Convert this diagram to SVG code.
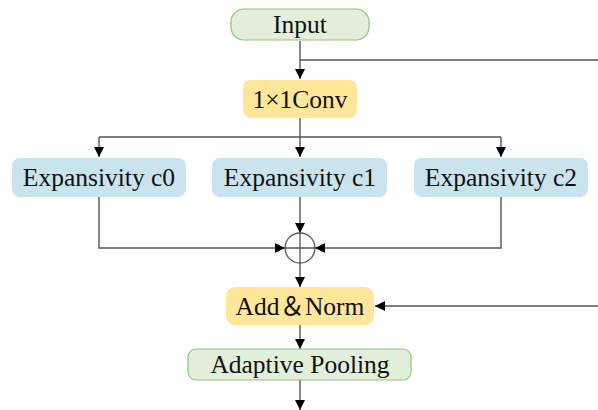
<svg xmlns="http://www.w3.org/2000/svg" width="598" height="410" viewBox="0 0 598 410">
<style>
text{font-family:"Liberation Serif","Times New Roman",serif;font-size:25.5px;fill:#111;text-anchor:middle}
.cjk{font-family:"Liberation Serif","Noto Sans CJK SC",serif}
.g{fill:#e2efda;stroke:#93bf85;stroke-width:1.2}
.y{fill:#ffe699}
.b{fill:#c9e4ed}
.c{fill:none;stroke:#555;stroke-width:1.4}
</style>
<defs>
<marker id="a" markerWidth="10" markerHeight="10" refX="10" refY="5" orient="auto" markerUnits="userSpaceOnUse">
<path d="M0,0 L10,5 L0,10 Z" fill="#000"/>
</marker>
</defs>
<g id="connectors">
<path class="c" d="M300,41 V79" marker-end="url(#a)"/>
<path class="c" d="M300,60 H598"/>
<path class="c" d="M300,118 V137"/>
<path class="c" d="M99,137 H501"/>
<path class="c" d="M99,137 V157" marker-end="url(#a)"/>
<path class="c" d="M300,137 V157" marker-end="url(#a)"/>
<path class="c" d="M501,137 V157" marker-end="url(#a)"/>
<path class="c" d="M99,197 V248 H285" marker-end="url(#a)"/>
<path class="c" d="M300,197 V233" marker-end="url(#a)"/>
<path class="c" d="M501,197 V248 H315" marker-end="url(#a)"/>
<path class="c" d="M300,263 V287" marker-end="url(#a)"/>
<path class="c" d="M598,306 H375" marker-end="url(#a)"/>
<path class="c" d="M300,325 V349" marker-end="url(#a)"/>
<path class="c" d="M300,380 V410" marker-end="url(#a)"/>
</g>
<g id="input"><rect class="g" x="231" y="9" width="138" height="31" rx="13"/><text x="300" y="33">Input</text></g>
<g id="conv"><rect class="y" x="243" y="80" width="114" height="38" rx="8"/><text x="300" y="108">1×1Conv</text></g>
<g id="exp0"><rect class="b" x="12" y="158" width="174" height="39" rx="8"/><text x="99" y="186">Expansivity c0</text></g>
<g id="exp1"><rect class="b" x="212" y="158" width="175" height="39" rx="8"/><text x="300" y="186">Expansivity c1</text></g>
<g id="exp2"><rect class="b" x="414" y="158" width="174" height="39" rx="8"/><text x="501" y="186">Expansivity c2</text></g>
<g id="sum"><circle cx="300" cy="248" r="15" fill="none" stroke="#555" stroke-width="1.3"/><path d="M300,233 V263 M285,248 H315" stroke="#555" stroke-width="1.3"/></g>
<g id="addnorm"><rect class="y" x="226" y="287" width="148" height="38" rx="9"/><text class="cjk" x="300" y="315">Add＆Norm</text></g>
<g id="pool"><rect class="g" x="188" y="349" width="223" height="31" rx="8"/><text x="300" y="373">Adaptive Pooling</text></g>
</svg>
